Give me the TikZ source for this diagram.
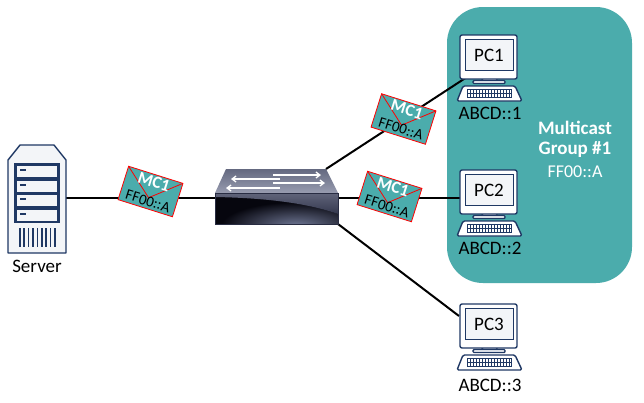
\documentclass[tikz,border=0pt]{standalone}
\usepackage{fontspec}
\setmainfont{Carlito}
\usetikzlibrary{arrows.meta}
\definecolor{teal1}{HTML}{4BACAC}
\definecolor{navy}{HTML}{1F3864}
\definecolor{paper}{HTML}{F3F5F8}
\definecolor{swtopa}{RGB}{100,105,128}
\definecolor{swtopb}{RGB}{152,156,176}
\definecolor{swglow}{RGB}{112,120,150}
\definecolor{swbanda}{RGB}{96,100,122}
\definecolor{swbandb}{RGB}{52,56,78}
\definecolor{swedge}{RGB}{40,44,66}
\definecolor{swdark}{RGB}{6,6,14}
\tikzset{
  x=1pt,y=-1pt,
  wire/.style={line width=2pt,black},
  hit/.style={inner sep=0pt,outer sep=0pt},
  icon/.style={draw=navy,line width=1.4pt,fill=paper,line join=round},
  swarrow/.style={white,line width=1.3pt,-{Straight Barb[length=4pt,width=6pt]}},
  addr/.style={font=\fontsize{19}{20}\selectfont,text=black,hit},
  envelope/.pic={
    \begin{scope}[rotate=-17.5]
      \draw[draw=red,line width=.8pt,fill=teal1] (-28.5,-17.5) rectangle (28.5,17.5);
      \draw[draw=red,line width=.8pt] (-28.5,-17.5) -- (0,6.5) -- (28.5,-17.5);
      \node[hit,text=white,font=\bfseries\fontsize{17}{18}\selectfont,rotate=-17.5] (-mc) at (0.5,-10) {MC1};
      \node[hit,text=black,font=\fontsize{15}{16}\selectfont,rotate=-17.5] (-dst) at (0.5,10) {FF00::A};
    \end{scope}
  },
  pcicon/.pic={
    \draw[icon,rounded corners=1.5pt] (22,43) rectangle (37,47);
    \draw[icon,rounded corners=1pt] (13,45.5) rectangle (45,48.5);
    \draw[icon,fill=white,rounded corners=2pt] (0,0) rectangle (57,44);
    \draw[draw=navy,line width=1pt,fill=paper] (5,4) rectangle (53,35);
    \draw[icon,fill=white,rounded corners=1.5pt] (3,51) -- (55,51) -- (62,66) -- (-3,66) -- cycle;
    \draw[draw=navy,line width=.8pt,fill=white] (7,54) rectangle (51,62);
    \draw[draw=navy,line width=.7pt] (7,58) -- (51,58);
    \foreach \k in {10,13,...,49}{\draw[draw=navy,line width=.6pt] (\k,54) -- (\k,62);}
    \node[hit,text=black,font=\fontsize{19}{20}\selectfont] (-name) at (29,20) {#1};
  }
}
\begin{document}
\begin{tikzpicture}
\useasboundingbox (0,0) rectangle (644,402);
\fill[white] (0,0) rectangle (644,402);
\fill[teal1,rounded corners=36pt] (447,7) rectangle (632,283);
\node[hit,text=white,font=\bfseries\fontsize{19}{20}\selectfont] (grpa) at (575,128) {Multicast};
\node[hit,text=white,font=\bfseries\fontsize{19}{20}\selectfont] (grpb) at (575,150) {Group \#1};
\node[hit,text=white,font=\fontsize{18}{20}\selectfont] (grpc) at (575,172) {FF00::A};
% anchors for the connectors
\node[hit,minimum width=58pt,minimum height=108pt] (server) at (37,199) {};
\node[hit,minimum width=123pt,minimum height=31pt] (switch) at (276.5,208.5) {};
\coordinate (swtop) at (326,169);
\coordinate (pcAport) at (467,77);
\coordinate (pcBport) at (460,198);
\coordinate (pcCport) at (459,316);
\draw[wire] (server.east |- 0,198) -- (switch.west |- 0,198);
\draw[wire] (swtop) -- (pcAport);
\draw[wire] (switch.east |- 0,198) -- (pcBport);
\draw[wire] (switch.south east) -- (pcCport);
% server
\draw[icon] (8,160) -- (20,145) -- (54,145) -- (66,160) -- (66,253) -- (8,253) -- cycle;
\draw[draw=navy,line width=1.4pt,fill=navy] (15,164) rectangle (59,222);
\foreach \yy in {166,180.5,195,209.5}{
  \fill[paper] (17,\yy) rectangle (57,\yy+11);
  \fill[navy] (19.5,\yy+3) rectangle (26,\yy+5);
}
\foreach \k in {0,...,8}{\fill[navy] (19+\k*4.4,228) rectangle (20.6+\k*4.4,247);}
\node[addr] (srvlabel) at (37,266) {Server};
% switch
\shade[top color=swtopa,bottom color=swtopb] (226,169) -- (326,169) -- (338,193) -- (215,193) -- cycle;
\fill[swdark] (215,193) rectangle (338,224);
\begin{scope}
  \clip (215,197) .. controls (270,198) and (310,204) .. (338,214) -- (338,224) -- (215,224) -- cycle;
  \shade[inner color=swglow,outer color=swdark] (296,226) ellipse (75 and 24);
\end{scope}
\shade[top color=swbanda,bottom color=swbandb] (215,193) -- (338,193) -- (338,214) .. controls (310,204) and (270,198) .. (215,197) -- cycle;
\draw[line width=.6pt,draw=swedge] (215,193) rectangle (338,224);
\draw[swarrow] (273,175) -- (321,175);
\draw[swarrow] (280,179) -- (231,179);
\draw[swarrow] (273,183) -- (325,183);
\draw[swarrow] (280,188) -- (226,188);
% PCs
\pic (pcA) at (460,35) {pcicon=PC1};
\pic (pcB) at (460,170) {pcicon=PC2};
\pic (pcC) at (460,304) {pcicon=PC3};
\node[addr] (ipA) at (490,113) {ABCD::1};
\node[addr] (ipB) at (490,248) {ABCD::2};
\node[addr] (ipC) at (490,385) {ABCD::3};
% packets
\pic (mA) at (150.5,191.5) {envelope};
\pic (mB) at (403.5,119) {envelope};
\pic (mC) at (389.5,196.5) {envelope};
\end{tikzpicture}
\end{document}
